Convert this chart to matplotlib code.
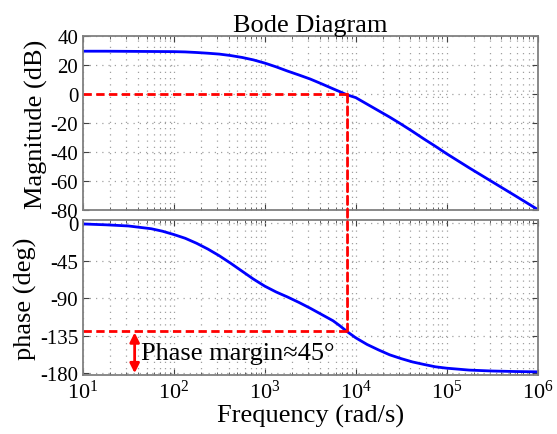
import matplotlib.pyplot as plt
import numpy as np
from matplotlib.patches import ConnectionPatch
from matplotlib.ticker import LogLocator, NullFormatter

plt.rcParams['font.family'] = ['Liberation Serif', 'DejaVu Serif']
plt.rcParams['mathtext.fontset'] = 'custom'
plt.rcParams['mathtext.rm'] = 'Liberation Serif'
plt.rcParams['mathtext.it'] = 'Liberation Serif:italic'

# Frequency points (log10 of rad/s)
log_w = [1.0, 1.25, 1.5, 1.75, 1.875, 2.0, 2.125, 2.25, 2.375, 2.5, 2.625, 2.75, 2.875,
         3.0, 3.125, 3.25, 3.375, 3.5, 3.625, 3.75, 3.825, 3.9, 4.0, 4.125, 4.25,
         4.375, 4.5, 4.625, 4.75, 4.875, 5.0, 5.25, 5.5, 5.75, 6.0]

# Magnitude (dB)
mag_db = [29.5, 29.5, 29.4, 29.3, 29.25, 29.2, 29.0, 28.6, 28.1, 27.5, 26.5, 25.2, 23.5,
          21.3, 18.7, 15.8, 13.1, 10.3, 7.0, 3.6, 1.6, -0.5, -2.5, -7.0, -11.5,
          -16.0, -20.8, -25.8, -31.0, -36.0, -41.2, -51.0, -60.5, -70.0, -79.6]

# Phase (deg)
phase_deg = [-0.8, -1.8, -3.2, -6.5, -9.5, -13.5, -18.0, -24.0, -31.0, -39.0, -48.0, -57.5, -67.0,
             -75.5, -82.5, -88.5, -95.0, -102.0, -109.5, -117.0, -123.0, -129.6, -137.5, -145.5, -152.0,
             -158.0, -162.5, -166.5, -169.5, -172.3, -174.0, -176.3, -177.4, -178.0, -178.4]

w_c = 8130          # gain crossover frequency (rad/s)
phase_c = -129.6    # phase at crossover
arrow_w = 37        # x position of the phase margin arrow

mag_ticks = [40, 20, 0, -20, -40, -60, -80]
phase_ticks = [0, -45, -90, -135, -180]

w = 10 ** np.array(log_w)

fig = plt.figure(figsize=(5.57, 4.35), dpi=100)
ax1 = fig.add_axes([0.149, 0.515, 0.816, 0.400])
ax2 = fig.add_axes([0.149, 0.136, 0.816, 0.356])

blue = '#0000ff'
red = '#ff0000'
spine_c = '#808080'
dash = (0, (3, 1.6))

for ax in (ax1, ax2):
    ax.set_xscale('log')
    ax.set_xlim(10, 1e6)
    ax.xaxis.set_major_locator(LogLocator(base=10, numticks=10))
    ax.xaxis.set_minor_locator(LogLocator(base=10, subs=np.arange(2, 10), numticks=10))
    ax.xaxis.set_minor_formatter(NullFormatter())
    ax.grid(True, which='major', axis='both', color='#a0a0a0', linestyle=(0, (1, 4)), linewidth=0.9)
    ax.grid(True, which='minor', axis='x', color='#a0a0a0', linestyle=(0, (1, 4)), linewidth=0.9)
    ax.tick_params(which='both', direction='in', top=True, right=True,
                   color='#404040', labelsize=15)
    ax.tick_params(which='major', length=4)
    ax.tick_params(which='minor', length=2.5)
    for s in ax.spines.values():
        s.set_color(spine_c)
        s.set_linewidth(1.3)

# Magnitude
ax1.plot(w, mag_db, color=blue, linewidth=2)
ax1.set_ylim(-80, 40)
ax1.set_yticks(mag_ticks)
ax1.set_yticklabels([str(t) for t in mag_ticks])
ax1.tick_params(axis='x', labelbottom=False)
ax1.set_ylabel('Magnitude (dB)', fontsize=19, labelpad=2)
ax1.set_title('Bode Diagram', fontsize=19, pad=3)
ax1.plot([10, w_c], [0, 0], color=red, linestyle=dash, linewidth=2)

# Phase
ax2.plot(w, phase_deg, color=blue, linewidth=2)
ax2.set_ylim(-182, 4)
ax2.set_yticks(phase_ticks)
ax2.set_yticklabels([str(t) for t in phase_ticks])
ax2.set_ylabel('phase (deg)', fontsize=19, labelpad=2)
ax2.set_xlabel('Frequency (rad/s)', fontsize=19, labelpad=1)
ax2.tick_params(axis='x', labelsize=16)
ax2.plot([10, w_c], [phase_c, phase_c], color=red, linestyle=dash, linewidth=2)

# vertical crossover line spanning both axes
con = ConnectionPatch(xyA=(w_c, 0), coordsA=ax1.transData,
                      xyB=(w_c, phase_c), coordsB=ax2.transData,
                      color=red, linestyle=dash, linewidth=2)
fig.add_artist(con)

# phase margin arrow and label
ax2.annotate('', xy=(arrow_w, -180), xytext=(arrow_w, phase_c - 1.5),
             arrowprops=dict(arrowstyle='<|-|>', color=red, lw=2,
                             mutation_scale=14, shrinkA=0, shrinkB=0))
ax2.text(arrow_w * 1.18, -155.5, 'Phase margin\u224845\u00b0', fontsize=19,
         ha='left', va='center')

plt.savefig('out.png', dpi=100)
plt.close(fig)
